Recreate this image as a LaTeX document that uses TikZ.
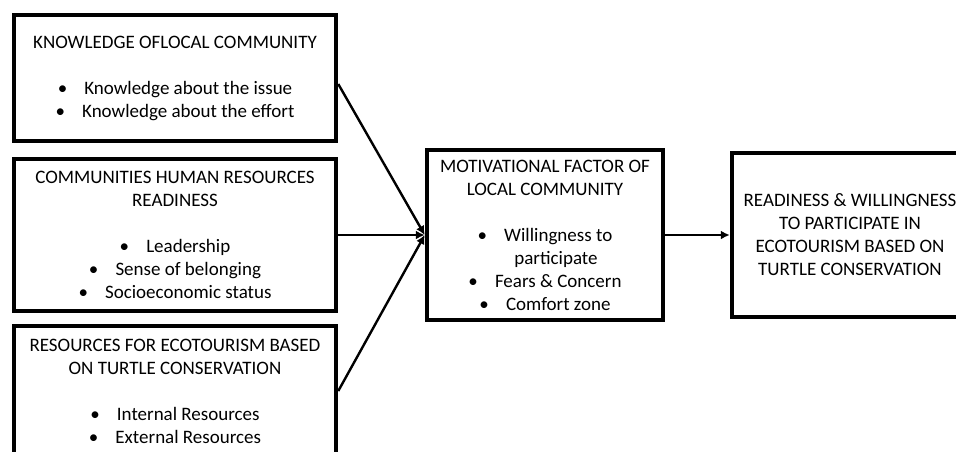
\documentclass[tikz,border=0pt]{standalone}
\usepackage{fontspec}
\setmainfont{Carlito}
\usetikzlibrary{arrows.meta}
\tikzstyle{box}=[draw,line width=4.5pt,align=center,inner sep=0pt,font=\fontsize{19}{23}\selectfont]
\tikzstyle{arr}=[line width=2.4pt,-{Latex[length=9pt,width=9pt]}]
\newcommand{\bul}{\textbullet\hspace{0.9em}}

\begin{document}
\begin{tikzpicture}[x=1pt,y=-1pt]
\useasboundingbox (0,0) rectangle (956,452);
\clip (0,0) rectangle (956,452);
\node[box,minimum width=322pt,minimum height=126pt] (know) at (175,78) {KNOWLEDGE OFLOCAL COMMUNITY\\[23pt]\bul Knowledge about the issue\\\bul Knowledge about the effort};
\node[box,minimum width=322pt,minimum height=152pt] (human) at (175,235) {COMMUNITIES HUMAN RESOURCES\\READINESS\\[23pt]\bul Leadership\\\bul Sense of belonging\\\bul Socioeconomic status};
\node[box,minimum width=322pt,minimum height=130pt] (res) at (175,391) {RESOURCES FOR ECOTOURISM BASED\\ON TURTLE CONSERVATION\\[23pt]\bul Internal Resources\\\bul External Resources};
\node[box,minimum width=236pt,minimum height=170pt] (motiv) at (545,235) {MOTIVATIONAL FACTOR OF\\LOCAL COMMUNITY\\[23pt]\bul Willingness to\\\hspace*{22pt}participate\\\bul Fears \& Concern\\\bul Comfort zone};
\node[box,minimum width=236pt,minimum height=164pt] (ready) at (850,235) {READINESS \& WILLINGNESS\\TO PARTICIPATE IN\\ECOTOURISM BASED ON\\TURTLE CONSERVATION};
\draw[arr] ([yshift=-6pt]know.east) -- (motiv.west);
\draw[arr] (human.east) -- (motiv.west);
\draw[arr] (res.east) -- (motiv.west);
\draw[arr] (motiv.east) -- (ready.west);
\end{tikzpicture}
\end{document}
